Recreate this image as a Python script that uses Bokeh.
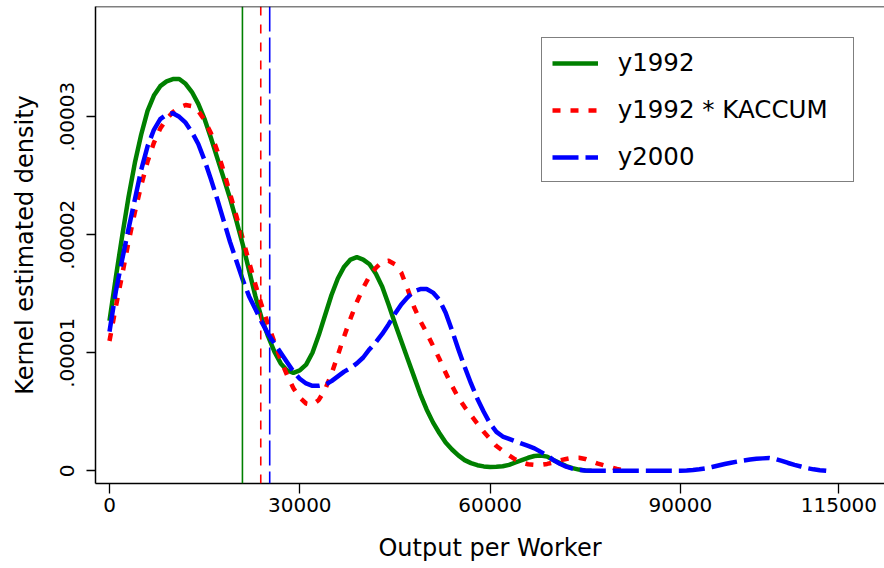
import numpy as np
from bokeh.plotting import figure
from bokeh.models import (Range1d, Span, FixedTicker, Legend, LegendItem,
                          CustomJSTickFormatter)
from bokeh.embed import file_html
from bokeh.resources import INLINE

# Kernel density estimates of output per worker (density values in units of 1e-5),
# evaluated on a grid of 1000 in output per worker.
x_1992 = list(range(0, 77000, 1000))
dens_1992 = [1.27, 1.64, 1.99, 2.32, 2.61, 2.85, 3.05, 3.18, 3.26, 3.30,
             3.32, 3.32, 3.28, 3.21, 3.11, 2.98, 2.82, 2.65, 2.48, 2.31,
             2.12, 1.92, 1.70, 1.48, 1.29, 1.14, 1.01, 0.91, 0.85, 0.83,
             0.85, 0.90, 1.00, 1.15, 1.32, 1.49, 1.63, 1.73, 1.79, 1.81,
             1.79, 1.75, 1.67, 1.56, 1.41, 1.25, 1.10, 0.95, 0.80, 0.65,
             0.52, 0.41, 0.32, 0.24, 0.18, 0.13, 0.09, 0.065, 0.047, 0.037,
             0.032, 0.033, 0.038, 0.05, 0.07, 0.09, 0.11, 0.125, 0.13, 0.12,
             0.09, 0.065, 0.04, 0.022, 0.01, 0.003, 0.0]

x_kaccum = list(range(0, 82000, 1000))
dens_kaccum = [1.10, 1.39, 1.66, 1.94, 2.19, 2.42, 2.62, 2.78, 2.90, 2.98,
               3.04, 3.08, 3.10, 3.09, 3.05, 2.97, 2.86, 2.71, 2.54, 2.35,
               2.16, 1.97, 1.77, 1.58, 1.40, 1.24, 1.09, 0.94, 0.81, 0.70,
               0.62, 0.57, 0.56, 0.60, 0.69, 0.82, 0.98, 1.14, 1.29, 1.43,
               1.55, 1.65, 1.72, 1.77, 1.78, 1.75, 1.68, 1.54, 1.39, 1.27,
               1.17, 1.06, 0.95, 0.83, 0.72, 0.62, 0.54, 0.47, 0.40, 0.33,
               0.27, 0.21, 0.17, 0.13, 0.095, 0.07, 0.055, 0.05, 0.05, 0.058,
               0.07, 0.088, 0.10, 0.11, 0.11, 0.10, 0.08, 0.06, 0.045, 0.03,
               0.015, 0.005]

x_2000 = (list(range(0, 76000, 1000)) + list(range(76000, 90000, 2000))
          + list(range(90000, 114000, 1000)))
dens_2000 = [1.18, 1.52, 1.79, 2.05, 2.30, 2.55, 2.75, 2.89, 2.98, 3.02,
             3.03, 3.00, 2.95, 2.87, 2.77, 2.63, 2.47, 2.30, 2.12, 1.94,
             1.78, 1.62, 1.48, 1.37, 1.26, 1.16, 1.08, 1.00, 0.92, 0.84,
             0.78, 0.74, 0.72, 0.72, 0.73, 0.76, 0.80, 0.84, 0.87, 0.91,
             0.96, 1.03, 1.09, 1.16, 1.24, 1.33, 1.41, 1.47, 1.52, 1.54,
             1.54, 1.51, 1.45, 1.34, 1.19, 1.03, 0.88, 0.74, 0.61, 0.50,
             0.40, 0.33, 0.29, 0.27, 0.25, 0.23, 0.21, 0.19, 0.16, 0.13,
             0.09, 0.06, 0.035, 0.018, 0.008, 0.002,
             0.0, 0.0, 0.0, 0.0, 0.0, 0.0, 0.0,
             0.0, 0.002, 0.006, 0.012, 0.02, 0.032, 0.045, 0.057, 0.068, 0.078,
             0.087, 0.095, 0.101, 0.105, 0.108, 0.100, 0.084, 0.066, 0.05, 0.036,
             0.022, 0.012, 0.005, 0.0]

# Means of each distribution (vertical reference lines)
mean_1992 = 20960
mean_kaccum = 23850
mean_2000 = 25260

series_labels = ["y1992", "y1992 * KACCUM", "y2000"]
x_ticks = [0, 30000, 60000, 90000, 115000]
y_ticks = [0, 1e-5, 2e-5, 3e-5]

FONT = "DejaVu Sans"
SCALE = 1e-5

p = figure(width=884, height=568, output_backend="svg", toolbar_location=None,
           x_range=Range1d(-2206, 122190), y_range=Range1d(-0.108e-5, 3.935e-5),
           min_border_left=95, min_border_right=0, min_border_top=6,
           min_border_bottom=85)
p.grid.visible = False
p.outline_line_color = None
p.background_fill_color = "white"
p.border_fill_color = "white"

# density curves
r1992 = p.line(x_1992, np.array(dens_1992) * SCALE, line_color="green",
               line_width=4.5, line_join="round")
rkac = p.line(x_kaccum, np.array(dens_kaccum) * SCALE, line_color="red",
              line_width=4.5, line_dash="8 10", line_join="round")
r2000 = p.line(x_2000, np.array(dens_2000) * SCALE, line_color="blue",
               line_width=4.5, line_dash="26 7", line_join="round")

# mean markers
p.add_layout(Span(location=mean_1992, dimension="height", line_color="green",
                  line_width=1.6))
p.add_layout(Span(location=mean_kaccum, dimension="height", line_color="red",
                  line_width=1.6, line_dash="9 9"))
p.add_layout(Span(location=mean_2000, dimension="height", line_color="blue",
                  line_width=1.6, line_dash="25 6"))

# top border of the plot region
p.add_layout(Span(location=3.935e-5, dimension="width", line_color="black",
                  line_width=1.5))

# axes
for ax in (p.xaxis[0], p.yaxis[0]):
    ax.axis_line_color = "black"
    ax.axis_line_width = 1.5
    ax.major_tick_line_color = "black"
    ax.major_tick_line_width = 1.3
    ax.major_tick_in = 0
    ax.minor_tick_line_color = None
    ax.major_label_text_font = FONT
    ax.major_label_text_font_size = "20px"
    ax.major_label_text_color = "black"
    ax.axis_label_text_font = FONT
    ax.axis_label_text_font_size = "24px"
    ax.axis_label_text_font_style = "normal"
    ax.axis_label_text_color = "black"

p.xaxis.ticker = FixedTicker(ticks=x_ticks)
p.xaxis.formatter = CustomJSTickFormatter(code="return tick.toFixed(0);")
p.xaxis.major_tick_out = 10
p.xaxis.major_label_standoff = 4
p.xaxis.axis_label = "Output per Worker"
p.xaxis.axis_label_standoff = 19

p.yaxis.ticker = FixedTicker(ticks=y_ticks)
p.yaxis.formatter = CustomJSTickFormatter(
    code="return tick == 0 ? '0' : tick.toFixed(5).replace(/^0/, '');")
p.yaxis.major_tick_out = 9
p.yaxis.major_label_orientation = "vertical"
p.yaxis.major_label_standoff = 12
p.yaxis.axis_label = "Kernel estimated density"
p.yaxis.axis_label_standoff = 19

legend = Legend(items=[LegendItem(label=series_labels[0], renderers=[r1992]),
                       LegendItem(label=series_labels[1], renderers=[rkac]),
                       LegendItem(label=series_labels[2], renderers=[r2000])],
                location=(445.7, 301))
legend.label_text_font = FONT
legend.label_text_font_size = "24.5px"
legend.label_text_color = "black"
legend.border_line_color = "black"
legend.border_line_width = 1.5
legend.background_fill_color = "white"
legend.background_fill_alpha = 1.0
legend.padding = 10
legend.spacing = 18
legend.glyph_width = 46
legend.glyph_height = 26
legend.label_height = 26
legend.label_width = 225
legend.label_standoff = 20
p.add_layout(legend)

open("out.html", "w").write(file_html(p, INLINE))
